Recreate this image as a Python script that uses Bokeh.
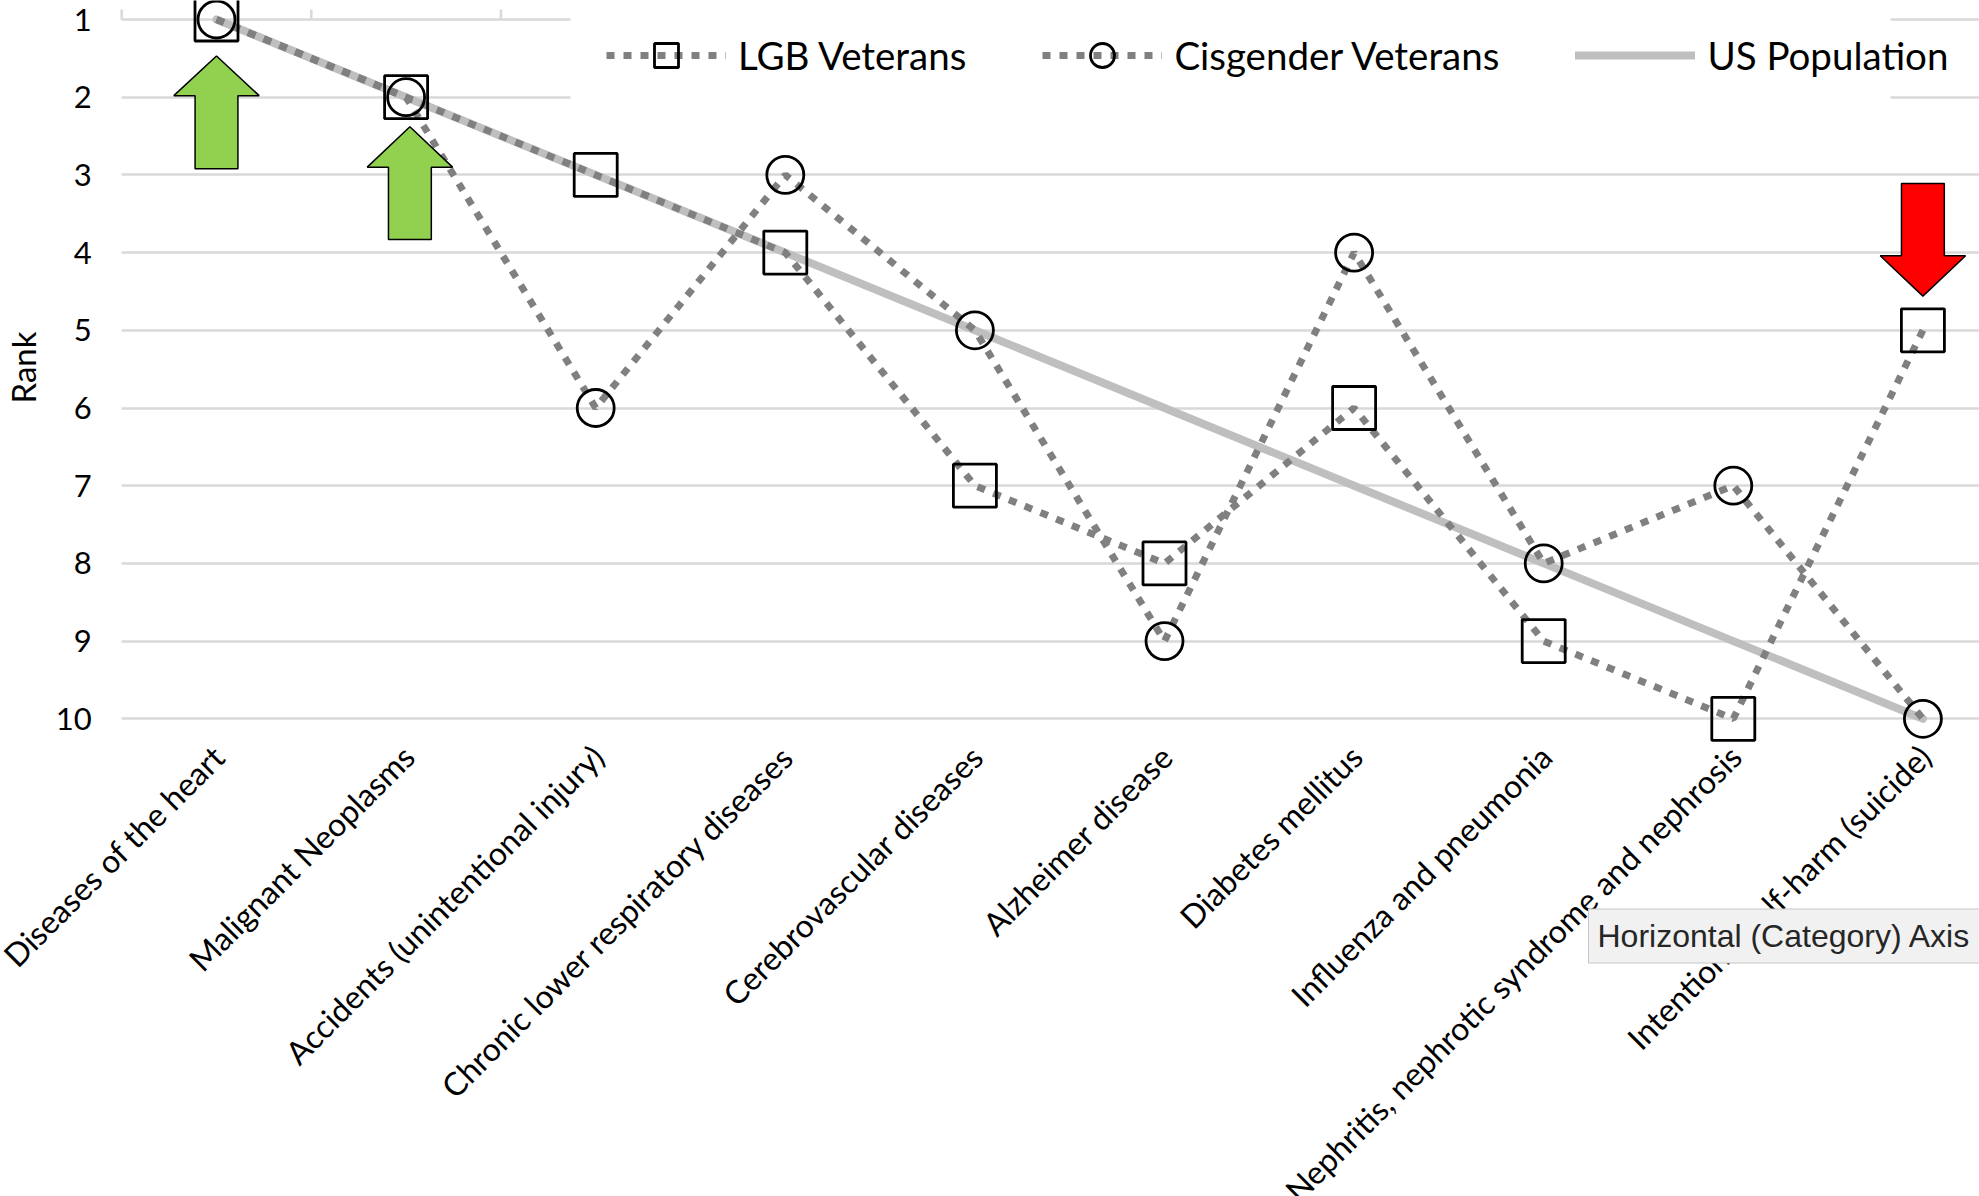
import math
from bokeh.plotting import figure
from bokeh.models import (Range1d, FixedTicker, ColumnDataSource, LabelSet, Label,
                          Legend, LegendItem, Grid)
from bokeh.embed import file_html
from bokeh.resources import INLINE
from bokeh.core.properties import value

# ---------------- data ----------------
CATEGORIES = [
    "Diseases of the heart",
    "Malignant Neoplasms",
    "Accidents (unintentional injury)",
    "Chronic lower respiratory diseases",
    "Cerebrovascular diseases",
    "Alzheimer disease",
    "Diabetes mellitus",
    "Influenza and pneumonia",
    "Nephritis, nephrotic syndrome and nephrosis",
    "Intentional self-harm (suicide)",
]
LGB_RANK = [1, 2, 3, 4, 7, 8, 6, 9, 10, 5]
CIS_RANK = [1, 2, 6, 3, 5, 9, 4, 8, 7, 10]
US_RANK = [1, 2, 3, 4, 5, 6, 7, 8, 9, 10]
RANK_TICKS = [1, 2, 3, 4, 5, 6, 7, 8, 9, 10]
RANK_LABELS = ["1", "2", "3", "4", "5", "6", "7", "8", "9", "10"]
SERIES_NAMES = ["LGB Veterans", "Cisgender Veterans", "US Population"]
Y_TITLE = "Rank"

# block-arrow call-outs (category position, rank of tip / neck / tail)
ARROW_CAT = [0.0, 1.02, 9.0]
ARROW_TIP = [1.47, 2.38, 4.56]
ARROW_NECK = [1.98, 2.90, 4.04]
ARROW_TAIL = [2.92, 3.83, 3.11]
ARROW_COLOR = ["#92D050", "#92D050", "#FF0000"]

TOOLTIP_TEXT = "Horizontal (Category) Axis"

# ---------------- layout (canvas pixels) ----------------
W, H = 1979, 1196
CAT0_PX = 216.0
PX_PER_CAT = 189.6
RANK1_PX = 19.0
PX_PER_RANK = 77.7


def px2x(px):
    return (px - CAT0_PX) / PX_PER_CAT


def px2y(py):
    return 1 + (py - RANK1_PX) / PX_PER_RANK


x_range = Range1d(px2x(0), px2x(W))
y_range = Range1d(px2y(H), px2y(0))   # reversed: rank 1 on top

p = figure(width=W, height=H, x_range=x_range, y_range=y_range,
           output_backend="svg", toolbar_location=None,
           x_axis_location=None, y_axis_location=None,
           min_border_left=0, min_border_right=0, min_border_top=0,
           min_border_bottom=0)
p.outline_line_color = None
p.background_fill_color = "white"
p.border_fill_color = "white"
p.grid.visible = False

FONT = "Lato"
X_START = -0.5  # left edge of the category axis

grid = Grid(dimension=1, ticker=FixedTicker(ticks=RANK_TICKS),
            grid_line_color="#d9d9d9", grid_line_width=2.5)
if "cross_bounds" in Grid.properties():
    grid.cross_bounds = (X_START, px2x(W))
p.add_layout(grid)

xs = list(range(len(CATEGORIES)))

# category axis tick marks (between categories) on the rank-1 axis line
bounds = [i - 0.5 for i in range(len(CATEGORIES) + 1)]
p.segment(x0=bounds, x1=bounds, y0=[RANK_TICKS[0]] * len(bounds),
          y1=[RANK_TICKS[0] - 10 / PX_PER_RANK] * len(bounds),
          line_color="#d9d9d9", line_width=2.5)

# white legend backdrop (hides the top grid lines, as the chart's legend box does)
p.quad(left=[px2x(570)], right=[px2x(1890)], top=[px2y(-10)], bottom=[px2y(128)],
       fill_color="white", line_color=None)

# series
us_line = p.line(xs, US_RANK, line_color="#bfbfbf", line_width=8, line_cap="round")
lgb_line = p.line(xs, LGB_RANK, line_color="#808080", line_width=7, line_dash="8 9")
cis_line = p.line(xs, CIS_RANK, line_color="#808080", line_width=7, line_dash="8 9")
lgb_pts = p.scatter(xs, LGB_RANK, marker="square", size=43, fill_color=None,
                    line_color="black", line_width=2.8)
cis_pts = p.scatter(xs, CIS_RANK, marker="circle", size=37, fill_color=None,
                    line_color="black", line_width=2.8)

# block arrows
HW, SW = 0.225, 0.113
arrow_xs, arrow_ys = [], []
for cx, tip, neck, tail in zip(ARROW_CAT, ARROW_TIP, ARROW_NECK, ARROW_TAIL):
    arrow_xs.append([cx, cx + HW, cx + SW, cx + SW, cx - SW, cx - SW, cx - HW])
    arrow_ys.append([tip, neck, neck, tail, tail, neck, neck])
p.patches(arrow_xs, arrow_ys, fill_color=ARROW_COLOR, line_color="black", line_width=1.5)

# rank tick labels
ytick_src = ColumnDataSource(dict(x=[X_START] * len(RANK_TICKS), y=RANK_TICKS,
                                  text=RANK_LABELS))
p.add_layout(LabelSet(x="x", y="y", text="text", source=ytick_src, x_offset=-30,
                      text_align="right", text_baseline="middle",
                      text_font=value(FONT), text_font_size=value("31px"),
                      text_color="black"))

# category labels (rotated 45 degrees)
lab_src = ColumnDataSource(dict(x=xs, y=[RANK_TICKS[-1]] * len(xs), text=CATEGORIES))
p.add_layout(LabelSet(x="x", y="y", text="text", source=lab_src, angle=math.pi / 4,
                      x_offset=2, y_offset=-32, text_align="right",
                      text_baseline="middle", text_font=value(FONT),
                      text_font_size=value("32px"), text_color="black"))

# y axis title
p.add_layout(Label(x=px2x(22), y=px2y(367), text=Y_TITLE, angle=math.pi / 2,
                   text_align="center", text_baseline="middle", text_font=FONT,
                   text_font_size="33px", text_color="black"))

# legend
legend = Legend(items=[
    LegendItem(label=SERIES_NAMES[0], renderers=[lgb_line, lgb_pts]),
    LegendItem(label=SERIES_NAMES[1], renderers=[cis_line, cis_pts]),
    LegendItem(label=SERIES_NAMES[2], renderers=[us_line]),
], orientation="horizontal", location=(606, H - 85),
    padding=0, spacing=76, glyph_width=120, glyph_height=60, label_standoff=12,
    label_text_font=FONT, label_text_font_size="38.5px", label_text_color="black",
    background_fill_alpha=0.0, border_line_color=None, margin=0)
p.add_layout(legend)

# tooltip-like box
tx, ty = px2x(1588), px2y(935.5)
for pad, alpha, off in [(18, 0.025, -11), (14, 0.035, -8), (11, 0.05, -5)]:
    p.add_layout(Label(x=tx, y=ty, text=TOOLTIP_TEXT, text_alpha=0.0,
                       text_font="Liberation Sans", text_font_size="32px",
                       text_align="left", text_baseline="middle",
                       background_fill_color="black", background_fill_alpha=alpha,
                       padding=pad, y_offset=off))
p.add_layout(Label(x=tx, y=ty, text=TOOLTIP_TEXT, text_font="Liberation Sans",
                   text_font_size="32px", text_color="#262626", text_align="left",
                   text_baseline="middle", background_fill_color="#f1f1f1",
                   border_line_color="#c6c6c6", border_line_width=1, padding=9))

open("out.html", "w").write(file_html(p, INLINE))
